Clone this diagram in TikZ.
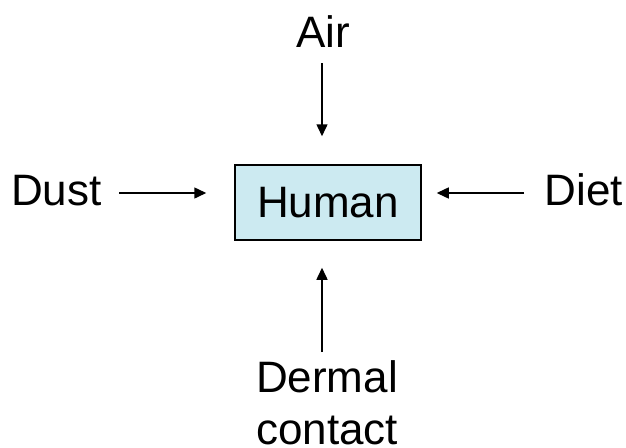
\documentclass[tikz,border=0pt]{standalone}
\usepackage{fontspec}
\setmainfont{Liberation Sans}
\usetikzlibrary{arrows.meta}
\definecolor{boxfill}{RGB}{204,234,241}
\begin{document}
\begin{tikzpicture}[x=1pt,y=-1pt,
  lbl/.style={font=\fontsize{44}{52}\selectfont, inner sep=0pt},
  arr/.style={line width=1.5pt, -{Triangle[length=12pt,width=11pt]}},
  hbox/.style={draw, line width=1.5pt, fill=boxfill, minimum width=186pt,
    minimum height=75pt, inner sep=0pt, font=\fontsize{44}{52}\selectfont}]
  \useasboundingbox (0,0) rectangle (626,447);
  % central box
  \node[hbox] (human) at (328,202.5) {Human};
  % source labels
  \node[lbl, anchor=base] (air) at (323,47) {Air};
  \node[lbl, anchor=base west] (dust) at (11,205) {Dust};
  \node[lbl, anchor=base east] (diet) at (623,205) {Diet};
  \node[lbl, anchor=north, align=center] (dermal) at (327,360) {Dermal\\contact};
  % arrow tails
  \coordinate (airtail) at (322,63);
  \coordinate (dusttail) at (119,193);
  \coordinate (diettail) at (524,193);
  \coordinate (dermtail) at (322,352);
  % arrows into the box
  \draw[arr, shorten >=28pt] (airtail) -- (airtail |- human.north);
  \draw[arr, shorten >=28pt] (dusttail) -- (dusttail -| human.west);
  \draw[arr, shorten >=15pt] (diettail) -- (diettail -| human.east);
  \draw[arr, shorten >=27pt] (dermtail) -- (dermtail |- human.south);
\end{tikzpicture}
\end{document}
